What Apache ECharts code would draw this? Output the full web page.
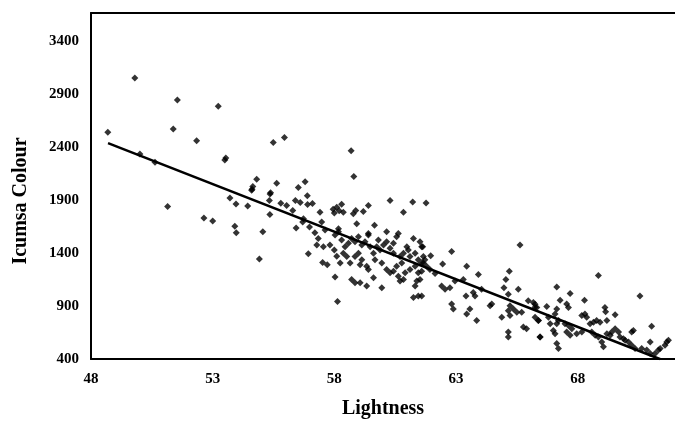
<!DOCTYPE html>
<html>
<head>
<meta charset="utf-8">
<script src="https://cdn.jsdelivr.net/npm/echarts@6/dist/echarts.min.js"></script>
<style>
html,body{margin:0;padding:0;background:#fff;}
#chart{width:675px;height:424px;}
</style>
</head>
<body>
<div id="chart"></div>
<script>
// Lightness (x) vs Icumsa Colour (y)
var lightness = [
	48.69,49.80,51.55,53.23,51.38,52.34,53.54,53.50,50.01,50.63,51.15,52.64,53.00,53.71,53.96,54.44,53.91,53.97,54.60,54.65,
	54.92,55.06,54.81,54.62,55.36,55.63,56.52,56.80,55.49,55.95,58.69,58.80,58.30,59.40,60.29,61.22,61.77,
	55.38,55.33,55.35,55.80,56.04,56.29,56.40,56.60,56.90,57.10,56.89,56.73,56.70,56.43,56.98,57.20,57.41,57.48,57.62,
	57.34,57.28,57.55,57.82,57.95,58.10,58.17,58.00,58.10,57.52,57.71,56.93,58.03,58.13,
	58.00,58.20,58.37,58.78,58.88,59.19,60.84,58.92,59.65,60.15,59.40,60.63,
	58.03,58.17,58.30,58.44,58.51,58.65,58.24,58.37,58.71,58.85,58.99,59.13,59.26,59.40,59.47,59.61,59.74,59.88,60.02,60.15,
	60.29,60.43,60.56,60.70,60.84,60.98,61.11,61.25,61.32,61.45,61.59,61.66,58.99,59.13,59.33,59.40,59.06,60.15,60.29,60.43,
	60.56,60.77,60.91,61.11,61.32,61.45,61.59,58.71,58.85,59.06,59.33,59.61,59.95,60.63,60.70,60.84,61.39,61.32,61.45,61.25,
	58.58,59.81,60.43,61.04,61.52,59.67,59.95,58.85,
	61.63,61.72,61.66,61.79,61.93,61.59,61.96,61.52,61.59,62.14,62.45,62.82,62.41,62.55,62.75,62.82,62.89,62.96,63.44,63.92,
	63.30,63.41,63.71,63.78,64.05,63.57,63.44,63.85,64.40,64.47,64.88,65.19,65.05,64.97,65.15,65.56,65.22,65.15,65.22,65.36,
	65.50,65.15,65.15,65.63,65.70,65.77,65.90,65.97,66.18,66.25,66.25,66.38,66.45,
	68.85,67.14,67.69,67.28,67.55,67.62,68.28,66.73,66.25,66.32,66.39,66.46,67.14,67.07,66.80,66.87,67.14,67.21,67.00,67.07,
	67.14,67.21,67.48,67.62,67.76,67.55,67.69,67.96,68.17,68.17,68.30,68.37,68.51,68.65,68.78,68.92,69.12,69.15,69.20,69.54,
	68.58,68.72,68.85,68.99,69.06,69.20,69.34,69.40,69.54,69.68,69.74,69.88,69.95,70.09,70.22,70.36,70.29,70.22,70.56,71.04,
	70.98,70.63,70.84,70.98,71.32,71.39,71.59,71.66,71.73,71.18
];
var icumsa = [
	2543,3055,2847,2788,2573,2462,2300,2280,2338,2260,1841,1732,1704,1921,1866,1847,1655,1592,1996,2030,
	1344,1602,2098,2005,1959,2061,2021,2074,2447,2493,2369,2124,1863,1850,1897,1884,1875,
	1971,1897,1765,1872,1850,1804,1897,1878,1860,1870,1944,1726,1695,1639,1648,1592,1788,1695,1620,
	1539,1477,1462,1477,1816,1835,1632,1430,1370,1313,1291,1394,1176,943,
	1780,1800,1788,1773,1804,1794,1788,1679,1664,1602,1586,1586,
	1571,1602,1524,1462,1369,1307,1307,1400,1540,1509,1555,1478,1509,1571,1462,1400,1462,1431,1478,1509,
	1447,1400,1555,1369,1400,1462,1369,1540,1400,1338,1462,1369,1400,1338,1276,1245,1291,1245,1214,1229,
	1276,1307,1214,1245,1276,1214,1307,1152,1121,1121,1090,1167,1074,1183,1136,1152,1136,1090,996,981,
	1493,1524,1493,1431,1509,1338,1307,1369,
	1462,1338,1307,1276,1245,1229,1375,1152,996,1208,1298,1416,1090,1059,1074,919,872,1136,1276,1198,
	1152,996,1028,996,1059,872,826,764,903,919,795,1229,1152,1074,1012,1059,903,857,810,872,
	841,655,608,1478,841,702,686,950,934,888,795,764,608,
	1189,1080,1018,956,919,887,956,897,918,887,763,608,872,825,794,732,732,763,670,639,
	546,499,732,717,686,655,624,639,655,810,825,794,732,748,763,748,887,847,763,819,
	655,624,608,561,515,639,624,655,686,655,608,592,577,561,530,499,670,655,996,710,
	561,499,484,453,484,499,530,561,577,453
];
// fitted trend line end points
var trendX = [48.7, 71.4];
var trendY = [2441, 398];

var xTicks = { min: 48, max: 72, interval: 5 };
var yTicks = { min: 400, max: 3670, interval: 500 };

var points = [];
for (var i = 0; i < lightness.length; i++) {
	points.push([lightness[i], icumsa[i]]);
}
var trend = [];
for (var j = 0; j < trendX.length; j++) {
	trend.push([trendX[j], trendY[j]]);
}

// plain numbers, no thousands separator
function plain(v) {
	return String(v);
}

var labelFont = {
	fontFamily: 'Liberation Serif',
	fontWeight: 'bold',
	fontSize: 15,
	color: '#000'
};

var myChart = echarts.init(document.getElementById('chart'));
var option = {
	animation: false,
	backgroundColor: '#fff',
	grid: { left: 91, right: 0, top: 13, bottom: 60 },
	xAxis: [
		{
			type: 'value',
			min: xTicks.min,
			max: xTicks.max,
			interval: xTicks.interval,
			name: 'Lightness',
			nameLocation: 'middle',
			nameGap: 40,
			nameTextStyle: { fontFamily: 'Liberation Serif', fontWeight: 'bold', fontSize: 20, color: '#000' },
			axisLine: { lineStyle: { color: '#000', width: 2 } },
			axisTick: { show: false },
			splitLine: { show: false },
			axisLabel: Object.assign({ margin: 13, showMaxLabel: false, formatter: plain }, labelFont)
		},
		{
			// top frame line
			type: 'value',
			position: 'top',
			min: xTicks.min,
			max: xTicks.max,
			axisLine: { show: true, lineStyle: { color: '#000', width: 2 } },
			axisTick: { show: false },
			axisLabel: { show: false },
			splitLine: { show: false }
		}
	],
	yAxis: {
		type: 'value',
		min: yTicks.min,
		max: yTicks.max,
		interval: yTicks.interval,
		name: 'Icumsa Colour',
		nameLocation: 'middle',
		nameGap: 60,
		nameTextStyle: { fontFamily: 'Liberation Serif', fontWeight: 'bold', fontSize: 20, color: '#000', padding: [0, 30, 0, 0] },
		axisLine: { show: true, lineStyle: { color: '#000', width: 2 } },
		axisTick: { show: false },
		splitLine: { show: false },
		axisLabel: Object.assign({ margin: 12, showMaxLabel: false, formatter: plain }, labelFont)
	},
	series: [
		{
			type: 'scatter',
			data: points,
			symbol: 'diamond',
			symbolSize: 7,
			itemStyle: { color: '#000' }
		},
		{
			type: 'line',
			data: trend,
			symbol: 'none',
			lineStyle: { color: '#000', width: 2.5 }
		}
	]
};
myChart.setOption(option);
</script>
</body>
</html>
